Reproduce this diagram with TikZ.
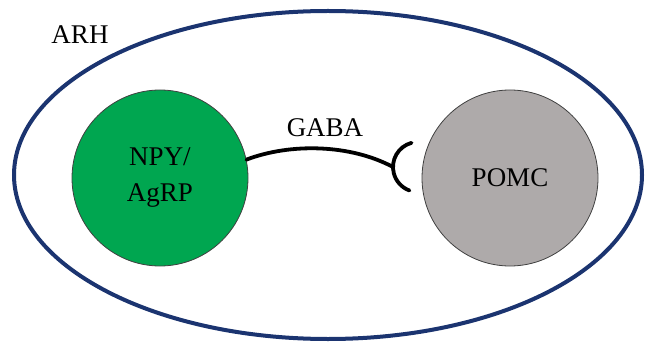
\documentclass[tikz,border=0pt]{standalone}
\usepackage{fontspec}
\setmainfont{Liberation Serif}
\usetikzlibrary{shapes.geometric}
\definecolor{navy}{HTML}{1B3470}
\definecolor{npygreen}{HTML}{00A650}
\definecolor{pomcgrey}{HTML}{AEAAAA}
\begin{document}
\begin{tikzpicture}[x=1pt,y=1pt,
  lbl/.style={font=\fontsize{27}{32}\selectfont, align=center, inner sep=0pt},
  cell/.style={circle, draw=black!75, line width=0.8pt, minimum size=176pt, inner sep=0pt, font=\fontsize{27}{36}\selectfont, align=center},
  conn/.style={line width=3.8pt, line cap=round}]
\useasboundingbox (0,0) rectangle (647,343);
\node[ellipse, draw=navy, line width=4pt, minimum width=628pt, minimum height=328pt, inner sep=0pt] (arh) at (328,168) {};
\node[lbl] (arhl) at (80,308) {ARH};
\node[cell, fill=npygreen] (npy) at (160,165) {NPY/\\AgRP};
\node[cell, fill=pomcgrey] (pomc) at (510,165) {POMC};
\node[lbl] (gaba) at (325,215) {GABA};
\coordinate (cupv) at (393,176);
\coordinate (cupc) at (418,176);
\draw[conn] (npy.12) .. controls (290,200) and (350,199) .. (cupv);
\draw[conn] ([shift={(105:25)}]cupc) arc[start angle=105, end angle=250, radius=25];
\end{tikzpicture}
\end{document}
